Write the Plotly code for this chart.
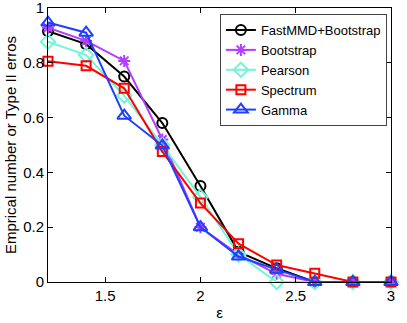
import plotly.graph_objects as go

eps = [1.2, 1.4, 1.6, 1.8, 2.0, 2.2, 2.4, 2.6, 2.8, 3.0]
fastmmd = [0.915, 0.868, 0.750, 0.580, 0.350, 0.110, 0.050, 0.0, 0.0, 0.0]
bootstrap = [0.928, 0.880, 0.807, 0.520, 0.200, 0.100, 0.030, 0.0, 0.0, 0.0]
pearson = [0.877, 0.828, 0.680, 0.500, 0.310, 0.100, 0.0, 0.0, 0.0, 0.0]
spectrum = [0.806, 0.789, 0.707, 0.476, 0.288, 0.140, 0.062, 0.032, 0.0, 0.0]
gamma = [0.947, 0.910, 0.607, 0.498, 0.200, 0.093, 0.045, 0.0, 0.0, 0.0]

series = [
    ("FastMMD+Bootstrap", fastmmd, "#000000", "circle-open", 10),
    ("Bootstrap", bootstrap, "#b23cff", "asterisk-open", 10),
    ("Pearson", pearson, "#70f5d6", "diamond-open", 11),
    ("Spectrum", spectrum, "#ff0000", "square-open", 9),
    ("Gamma", gamma, "#1f3fff", "triangle-up-open", 12),
]

fig = go.Figure()
for name, vals, col, sym, sz in series:
    fig.add_trace(go.Scatter(
        x=eps, y=vals, name=name, mode="lines+markers",
        line=dict(color=col, width=2),
        marker=dict(symbol=sym, size=sz, color=col, line=dict(color=col, width=2)),
        cliponaxis=False,
    ))

axis_common = dict(
    showline=True, linecolor="black", linewidth=1, mirror="allticks",
    ticks="inside", ticklen=5, tickcolor="black", showgrid=False, zeroline=False,
    tickfont=dict(size=15, color="black"), automargin=False, ticklabeloverflow="allow",
)
fig.update_xaxes(range=[1.2, 3], tickvals=[1.5, 2, 2.5, 3], ticktext=["1.5", "2", "2.5", "3"],
                 title=dict(text="ε", font=dict(size=15, color="black"), standoff=4), **axis_common)
fig.update_yaxes(range=[0, 1], tickvals=[0, 0.2, 0.4, 0.6, 0.8, 1],
                 ticktext=["0", "0.2", "0.4", "0.6", "0.8", "1"],
                 title=dict(text="Emprical number or Type II erros", font=dict(size=15, color="black"),
                            standoff=2), **axis_common)

fig.update_layout(
    width=407, height=323,
    margin=dict(l=48, r=16, t=8, b=41),
    paper_bgcolor="white", plot_bgcolor="white",
    font=dict(family="Liberation Sans, Arial, sans-serif", color="black"),
    legend=dict(x=0.988, y=0.978, xanchor="right", yanchor="top",
                bgcolor="white", bordercolor="#444", borderwidth=1,
                font=dict(size=13), tracegroupgap=0, itemwidth=30),
)

# drop the page's default body margin so the figure sits at the window's corner
fig.write_html("out.html", config={"displayModeBar": False},
               post_script="document.body.style.margin='0';")
